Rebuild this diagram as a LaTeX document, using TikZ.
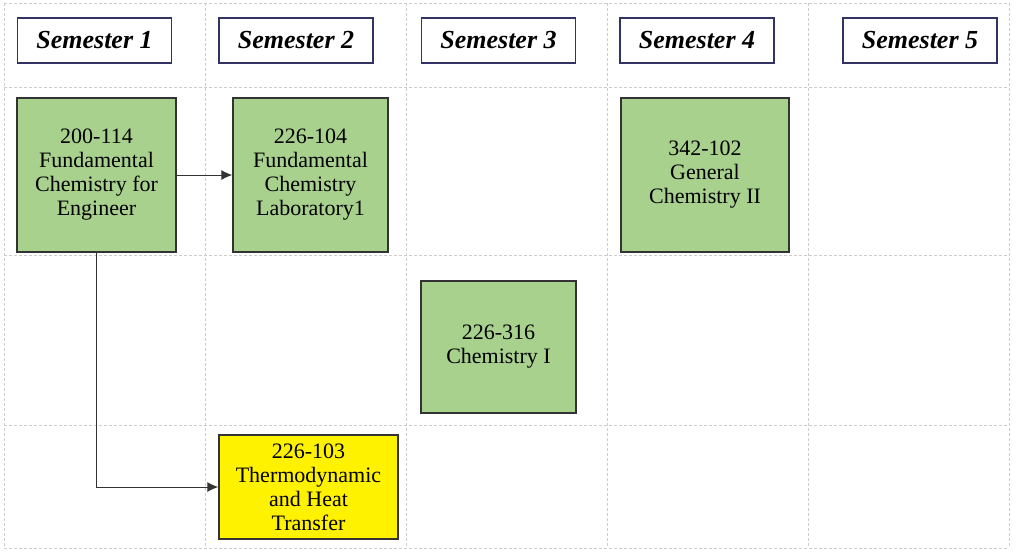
\documentclass[tikz,border=0pt]{standalone}
\usepackage{fontspec}
\setmainfont{Liberation Serif}
\usetikzlibrary{arrows.meta}

\definecolor{coursegreen}{RGB}{169,209,142}
\definecolor{headblue}{RGB}{50,50,100}

\begin{document}
\begin{tikzpicture}[x=0.5pt,y=-0.5pt,
    semhead/.style={draw=headblue,line width=0.6pt,fill=white,minimum width=77pt,minimum height=22.5pt,
        inner sep=0pt,font=\fontsize{13}{15}\selectfont\bfseries\itshape},
    course/.style={draw=black!80,line width=0.7pt,fill=coursegreen,inner sep=0pt,align=center,
        font=\fontsize{11}{12}\selectfont},
    link/.style={draw=black!80,line width=0.5pt,-{Latex[length=5.5pt,width=5pt]}}]

\useasboundingbox (0,0) rectangle (1016,553);

% grid
\foreach \x in {4,205,406,607,808,1009}
    \draw[gray!40,line width=0.4pt,dash pattern=on 1.5pt off 1pt] (\x,3) -- (\x,548);
\foreach \y in {3,87,255,425,548}
    \draw[gray!40,line width=0.4pt,dash pattern=on 1.5pt off 1pt] (4,\y) -- (1009,\y);

% semesters
\node[semhead] (s1) at (94.5,40.5) {Semester 1};
\node[semhead] (s2) at (296,40.5) {Semester 2};
\node[semhead] (s3) at (498.5,40.5) {Semester 3};
\node[semhead] (s4) at (697,40.5) {Semester 4};
\node[semhead] (s5) at (920,40.5) {Semester 5};

% courses
\node[course,minimum width=79.5pt,minimum height=77pt] (c114) at (96.5,175)
    {200-114\\Fundamental\\Chemistry for\\Engineer};
\node[course,minimum width=77.5pt,minimum height=77pt] (c104) at (310.5,175)
    {226-104\\Fundamental\\Chemistry\\Laboratory1};
\node[course,minimum width=84pt,minimum height=77pt] (c102) at (705,175)
    {342-102\\General\\Chemistry II};
\node[course,minimum width=77.5pt,minimum height=66pt] (c316) at (498.5,347)
    {226-316\\Chemistry I};
\node[course,fill=yellow,minimum width=89.5pt,minimum height=52pt] (c103) at (308.5,487)
    {226-103\\Thermodynamic\\and Heat\\Transfer};

\draw[link] (c114) -- (c104);
\draw[link] (c114.south) |- (c103.west);

\end{tikzpicture}
\end{document}
